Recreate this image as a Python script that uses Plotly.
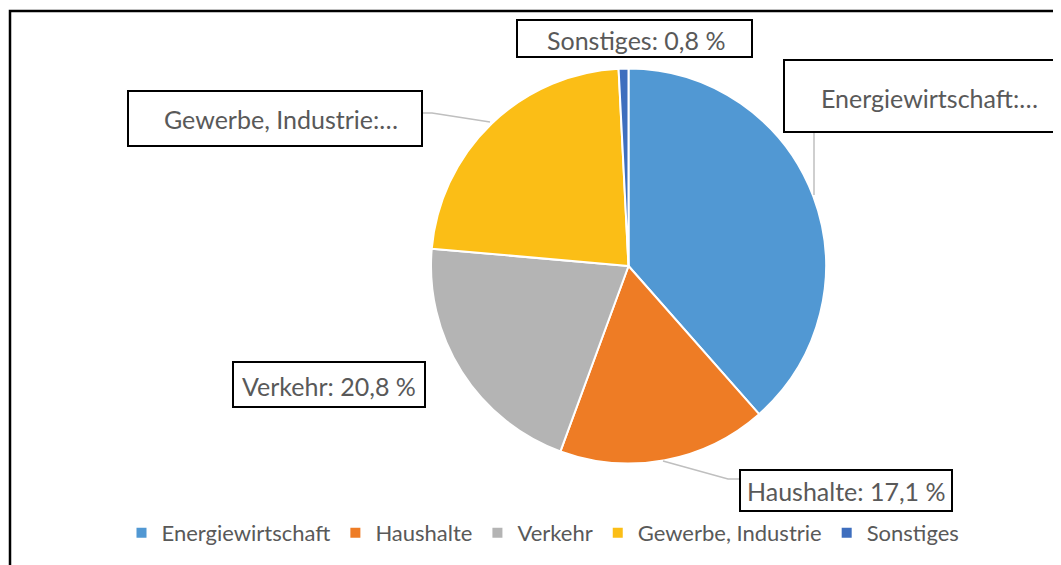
import plotly.graph_objects as go

W, H = 1061, 565
OFF = 8  # default page body margin

categories = ["Energiewirtschaft", "Haushalte", "Verkehr", "Gewerbe, Industrie", "Sonstiges"]
values = [38.5, 17.1, 20.8, 22.8, 0.8]
colors = ["#5198D3", "#EE7C25", "#B4B4B4", "#FBBE16", "#3E6EBE"]
label_texts = ["Energiewirtschaft:…", "Haushalte: 17,1 %", "Verkehr: 20,8 %", "Gewerbe, Industrie:…", "Sonstiges: 0,8 %"]

FONT = "Lato"
TXT = "#595959"


def px(x):
    return (x - OFF) / W


def py(y):
    return 1 - (y - OFF) / H


cx, cy, r = 628.5, 266, 197.5

fig = go.Figure()
fig.add_trace(go.Pie(
    labels=categories,
    values=values,
    marker=dict(colors=colors, line=dict(color="white", width=2)),
    sort=False,
    direction="clockwise",
    rotation=0,
    textinfo="none",
    hoverinfo="label+percent",
    domain=dict(x=[px(cx - r), px(cx + r)], y=[py(cy + r), py(cy - r)]),
))

shapes = []
# outer border
shapes.append(dict(type="rect", xref="paper", yref="paper",
                   x0=px(10), x1=px(1080), y0=py(590), y1=py(11),
                   line=dict(color="black", width=2.5), fillcolor="rgba(0,0,0,0)"))

gray = "#BFBFBF"
def path(pts):
    d = "M " + " L ".join(f"{px(x)},{py(y)}" for x, y in pts)
    return dict(type="path", xref="paper", yref="paper", path=d,
                line=dict(color=gray, width=1.5))

shapes.append(path([(814, 132), (814, 195)]))
shapes.append(path([(422, 113), (432, 113), (490, 122)]))
shapes.append(path([(663, 461), (728, 479), (740, 479)]))

boxes = [(784, 60, 1075, 132), (740, 470, 952, 511), (233, 362, 425, 407),
         (128, 91, 422, 146), (517, 20, 752, 57)]
for x0, y0, x1, y1 in boxes:
    shapes.append(dict(type="rect", xref="paper", yref="paper",
                       x0=px(x0), x1=px(x1), y0=py(y1), y1=py(y0),
                       line=dict(color="black", width=2), fillcolor="white", layer="above"))

text_pos = [(1040, 98, "right"), (846, 491, "center"), (329, 386, "center"),
            (400, 119, "right"), (636, 40, "center")]
annotations = []
for t, (x, y, xa) in zip(label_texts, text_pos):
    annotations.append(dict(text=t, xref="paper", yref="paper", x=px(x), y=py(y),
                            xanchor=xa, yanchor="middle", showarrow=False,
                            font=dict(family=FONT, size=25, color=TXT)))

fig.update_layout(
    width=W, height=H, autosize=False,
    margin=dict(l=0, r=0, t=0, b=0),
    paper_bgcolor="white", plot_bgcolor="white",
    shapes=shapes, annotations=annotations,
    showlegend=True,
    legend=dict(orientation="h", x=px(543), xanchor="center", y=py(533), yanchor="middle",
                font=dict(family=FONT, size=22, color=TXT), bgcolor="rgba(0,0,0,0)",
                traceorder="normal", itemsizing="constant"),
)

fig.write_html("out.html")
